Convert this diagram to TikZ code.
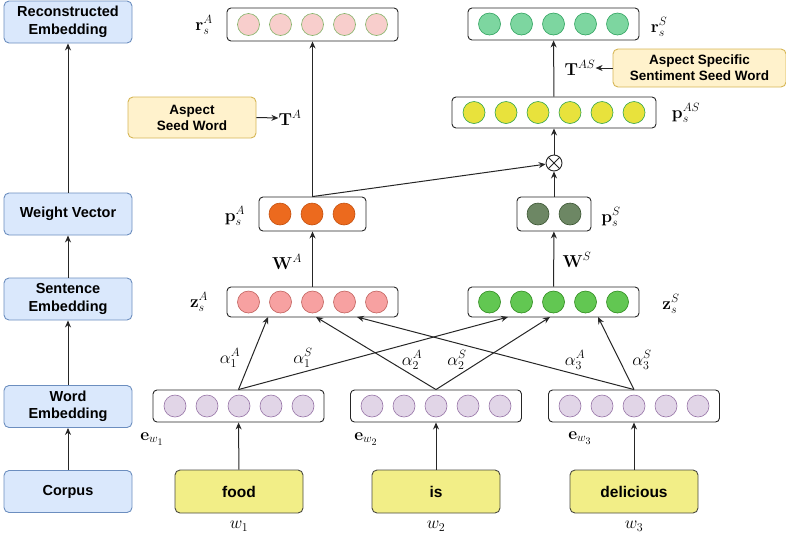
\documentclass[tikz,border=0pt]{standalone}
\usepackage[no-math]{fontspec}
\setmainfont{Liberation Sans}
\usepackage{amsmath}
\usetikzlibrary{arrows.meta}

\definecolor{sidefill}{HTML}{DAE8FC}
\definecolor{sideline}{HTML}{6C8EBF}
\definecolor{wordfill}{HTML}{F2EE87}
\definecolor{wordline}{HTML}{4A4A40}
\definecolor{seedfill}{HTML}{FFF2CC}
\definecolor{seedline}{HTML}{D6B656}
\definecolor{embfill}{HTML}{E1D5E7}
\definecolor{embline}{HTML}{9673A6}
\definecolor{zafill}{HTML}{F7A1A1}
\definecolor{zaline}{HTML}{C0605C}
\definecolor{rafill}{HTML}{F8CECC}
\definecolor{raline}{HTML}{82B366}
\definecolor{pafill}{HTML}{EC6A1E}
\definecolor{paline}{HTML}{C4500E}
\definecolor{psfill}{HTML}{6D8764}
\definecolor{psline}{HTML}{3A5431}
\definecolor{zsfill}{HTML}{62C752}
\definecolor{zsline}{HTML}{2D8A1C}
\definecolor{pasfill}{HTML}{E8E23C}
\definecolor{pasline}{HTML}{2FA34A}
\definecolor{rsfill}{HTML}{7DD6A0}
\definecolor{rsline}{HTML}{2EA25E}

\tikzset{
  sidebox/.style={draw=sideline, fill=sidefill, rounded corners=5pt, line width=0.9pt,
    minimum width=128pt, minimum height=42pt, align=center, inner sep=0pt,
    font=\fontsize{14.5}{17.5}\selectfont\bfseries},
  wordbox/.style={draw=wordline, fill=wordfill, rounded corners=5pt, line width=0.9pt,
    minimum width=128pt, minimum height=43pt, inner sep=0pt,
    font=\fontsize{15.5}{18}\selectfont\bfseries},
  seedbox/.style={draw=seedline, fill=seedfill, rounded corners=5pt, line width=0.9pt,
    align=center, inner sep=0pt, font=\fontsize{13.5}{16}\selectfont\bfseries},
  vecbox/.style={draw=black!85, fill=white, rounded corners=4pt, line width=0.9pt, inner sep=0pt},
  unit/.style={circle, minimum size=22pt, inner sep=0pt, line width=0.6pt},
  conn/.style={draw=black!85, line width=1pt, -{Stealth[length=7pt,width=6pt]}},
  lbl/.style={inner sep=0pt, font=\fontsize{17.28}{21}\selectfont},
}

% a row of #4 circles of style #5, spaced 32 apart, centred on (#2,#3), named #1-1 ... #1-#4
\newcommand\unitrow[5]{%
  \foreach \k in {1,...,#4}{%
    \node[unit,#5] (#1-\k) at ({#2+32*(\k-(#4+1)/2)},#3) {};
  }%
}

\begin{document}
\begin{tikzpicture}[x=1pt,y=-1pt]
\useasboundingbox (0,0) rectangle (786,539);

% left column: processing stages
\node[sidebox] (recon) at (68,22) {Reconstructed\\Embedding};
\node[sidebox] (weight) at (68,214) {Weight Vector};
\node[sidebox] (sent) at (68,299) {Sentence\\Embedding};
\node[sidebox] (wemb) at (68,406.5) {Word\\Embedding};
\node[sidebox] (corpus) at (68,491.5) {Corpus};
\draw[conn] (corpus) -- (wemb);
\draw[conn] (wemb) -- (sent);
\draw[conn] (sent) -- (weight);
\draw[conn] (weight) -- (recon);

% input words
\node[wordbox] (food) at (239,491.5) {food};
\node[wordbox] (is) at (436,491.5) {is};
\node[wordbox] (deli) at (634,491.5) {delicious};
\node[lbl] (w1) at (239,526) {$w_1$};
\node[lbl] (w2) at (436,526) {$w_2$};
\node[lbl] (w3) at (634,526) {$w_3$};

% word embeddings
\node[vecbox, minimum width=171pt, minimum height=32pt] (e1) at (238.5,406) {};
\node[vecbox, minimum width=171pt, minimum height=32pt] (e2) at (436,406) {};
\node[vecbox, minimum width=171pt, minimum height=32pt] (e3) at (634,406) {};
\unitrow{ea}{239}{406}{5}{draw=embline, fill=embfill}
\unitrow{eb}{436}{406}{5}{draw=embline, fill=embfill}
\unitrow{ec}{634}{406}{5}{draw=embline, fill=embfill}
\node[lbl] (le1) at (152,439) {$\mathbf{e}_{w_1}$};
\node[lbl] (le2) at (366,439) {$\mathbf{e}_{w_2}$};
\node[lbl] (le3) at (580,438) {$\mathbf{e}_{w_3}$};
\draw[conn] (food) -- (e1);
\draw[conn] (is) -- (e2);
\draw[conn] (deli) -- (e3);

% sentence embeddings
\node[vecbox, minimum width=171pt, minimum height=30pt] (zA) at (312.5,302) {};
\node[vecbox, minimum width=171pt, minimum height=30pt] (zS) at (553.5,302) {};
\unitrow{za}{312.5}{302}{5}{draw=zaline, fill=zafill}
\unitrow{zs}{553.5}{302}{5}{draw=zsline, fill=zsfill}
\node[lbl] (lzA) at (199,302) {$\mathbf{z}_s^A$};
\node[lbl] (lzS) at (671,304) {$\mathbf{z}_s^S$};

% attention connections
\coordinate (zA1) at (268,317);
\coordinate (zA2) at (316,317);
\coordinate (zA3) at (357,317);
\coordinate (zS1) at (508,317);
\coordinate (zS2) at (550,317);
\coordinate (zS3) at (598,317);
\draw[conn] (e1.north) -- (zA1);
\draw[conn] (e1.north) -- (zS1);
\draw[conn] (e2.north) -- (zA2);
\draw[conn] (e2.north) -- (zS2);
\draw[conn] (e3.north) -- (zA3);
\draw[conn] (e3.north) -- (zS3);
\node[lbl] (a1A) at (230,358) {$\alpha_1^A$};
\node[lbl] (a1S) at (303,358) {$\alpha_1^S$};
\node[lbl] (a2A) at (412,360) {$\alpha_2^A$};
\node[lbl] (a2S) at (457,360) {$\alpha_2^S$};
\node[lbl] (a3A) at (575,360) {$\alpha_3^A$};
\node[lbl] (a3S) at (642,360) {$\alpha_3^S$};

% weight vectors
\node[vecbox, minimum width=107pt, minimum height=34pt] (pA) at (312.5,214) {};
\node[vecbox, minimum width=74pt, minimum height=34pt] (pS) at (554,214) {};
\unitrow{pa}{312}{214}{3}{draw=paline, fill=pafill}
\unitrow{ps}{554}{214}{2}{draw=psline, fill=psfill}
\node[lbl] (lpA) at (235,216) {$\mathbf{p}_s^A$};
\node[lbl] (lpS) at (611,217) {$\mathbf{p}_s^S$};
\draw[conn] (zA) -- (pA);
\draw[conn] (zS) -- (pS);
\node[lbl] (WA) at (287,262) {$\mathbf{W}^A$};
\node[lbl] (WS) at (577,260) {$\mathbf{W}^S$};

% element-wise product
\node[circle, draw=black!85, line width=0.9pt, minimum size=16pt, inner sep=0pt] (ot) at (554,163) {};
\draw[black!85, line width=0.9pt] (ot.north west) -- (ot.south east) (ot.north east) -- (ot.south west);
\draw[conn] (pA.north) -- (ot);
\draw[conn] (pS) -- (ot);

% aspect-specific sentiment vector
\node[vecbox, minimum width=204pt, minimum height=31pt] (pAS) at (554,112.5) {};
\unitrow{pas}{554}{112.5}{6}{draw=pasline, fill=pasfill}
\node[lbl] (lpAS) at (686,113) {$\mathbf{p}_s^{AS}$};
\draw[conn] (ot) -- (pAS);

% reconstructions
\node[vecbox, minimum width=171pt, minimum height=33pt] (rA) at (312.5,24.5) {};
\node[vecbox, minimum width=171pt, minimum height=32pt] (rS) at (553.5,24) {};
\unitrow{ra}{312.5}{24.5}{5}{draw=raline, fill=rafill}
\unitrow{rs}{553.5}{24}{5}{draw=rsline, fill=rsfill}
\node[lbl] (lrA) at (204,25) {$\mathbf{r}_s^A$};
\node[lbl] (lrS) at (659,27) {$\mathbf{r}_s^S$};
\draw[conn] (pA) -- (rA);
\draw[conn] (pAS) -- (rS);

% seed words
\node[seedbox, minimum width=128pt, minimum height=41pt] (seedA) at (192,117.5) {Aspect\\Seed Word};
\node[lbl] (TA) at (290,118) {$\mathbf{T}^A$};
\draw[conn] (seedA.east) -- (TA.west);
\node[seedbox, minimum width=173pt, minimum height=38pt] (seedS) at (699.5,68) {Aspect Specific\\Sentiment Seed Word};
\node[lbl] (TAS) at (580,68) {$\mathbf{T}^{AS}$};
\draw[conn] (seedS.west) -- (TAS.east);
\end{tikzpicture}
\end{document}
